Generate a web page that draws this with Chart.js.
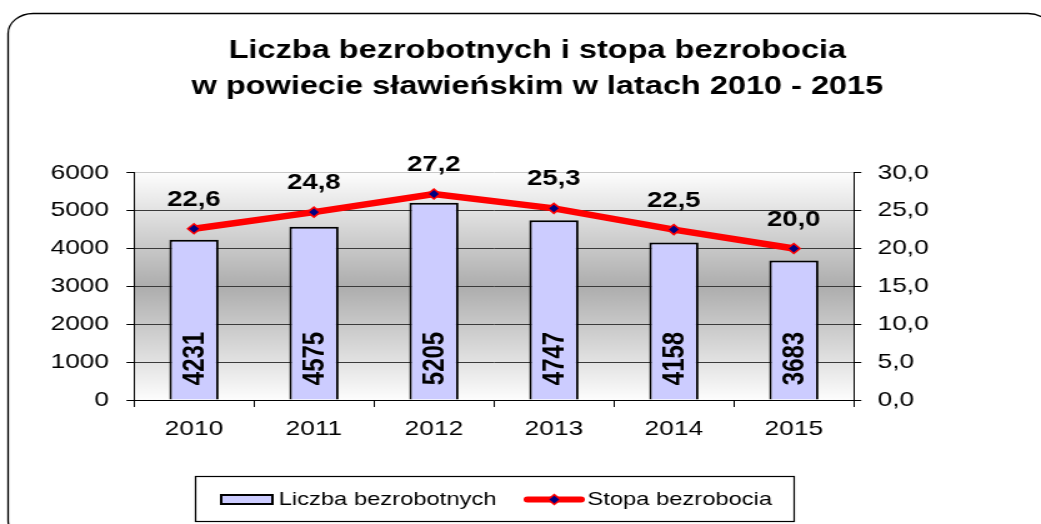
<!DOCTYPE html>
<html>
<head>
<meta charset="utf-8">
<script src="https://cdn.jsdelivr.net/npm/chart.js@4/dist/chart.umd.min.js"></script>
<style>
html,body{margin:0;padding:0;background:#fff;overflow:hidden;}
</style>
</head>
<body>
<canvas id="c" width="833" height="524" style="display:block;width:1041px;height:524px;"></canvas>
<script>
// ---- data ----
const years = ['2010', '2011', '2012', '2013', '2014', '2015'];
const unemployed = [4231, 4575, 5205, 4747, 4158, 3683];
const rate = [22.6, 24.8, 27.2, 25.3, 22.5, 20.0];
const seriesNames = ['Liczba bezrobotnych', 'Stopa bezrobocia'];
const titleLines = ['Liczba bezrobotnych i stopa bezrobocia', 'w powiecie sławieńskim w latach 2010 - 2015'];

const FONT = "'Liberation Sans', Arial, sans-serif";
Chart.defaults.font.family = FONT;
Chart.defaults.color = '#000';

const fmtComma = v => Number(v).toFixed(1).replace('.', ',');

function roundedRect(ctx, x, y, w, h, r) {
  ctx.beginPath();
  ctx.moveTo(x + r, y);
  ctx.lineTo(x + w - r, y);
  ctx.arcTo(x + w, y, x + w, y + r, r);
  ctx.lineTo(x + w, y + h - r);
  ctx.arcTo(x + w, y + h, x + w - r, y + h, r);
  ctx.lineTo(x + r, y + h);
  ctx.arcTo(x, y + h, x, y + h - r, r);
  ctx.lineTo(x, y + r);
  ctx.arcTo(x, y, x + r, y, r);
  ctx.closePath();
}

function diamond(ctx, x, y, r) {
  ctx.beginPath();
  ctx.moveTo(x - r, y);
  ctx.lineTo(x, y - r);
  ctx.lineTo(x + r, y);
  ctx.lineTo(x, y + r);
  ctx.closePath();
}

const decor = {
  id: 'decor',
  beforeDraw(chart) {
    const { ctx, chartArea: a, width, height } = chart;
    ctx.save();
    ctx.fillStyle = '#fff';
    ctx.fillRect(0, 0, width, height);
    roundedRect(ctx, 6.5, 13.5, 836, 527, 20);
    ctx.lineWidth = 1.3;
    ctx.strokeStyle = '#000';
    ctx.stroke();
    const g = ctx.createLinearGradient(0, a.top, 0, a.bottom);
    g.addColorStop(0, '#fdfdfd');
    g.addColorStop(0.5, '#adadad');
    g.addColorStop(1, '#fdfdfd');
    ctx.fillStyle = g;
    ctx.fillRect(a.left, a.top, a.right - a.left, a.bottom - a.top);
    ctx.restore();
  },
  afterDatasetsDraw(chart) {
    const ctx = chart.ctx;
    ctx.save();
    ctx.fillStyle = '#000';
    // bar labels (rotated)
    const mb = chart.getDatasetMeta(0);
    ctx.font = 'bold 24px ' + FONT;
    ctx.textAlign = 'center';
    ctx.textBaseline = 'middle';
    mb.data.forEach((bar, i) => {
      ctx.save();
      ctx.translate(bar.x + 1, bar.base - 41);
      ctx.rotate(-Math.PI / 2);
      ctx.fillText(String(unemployed[i]), 0, 0);
      ctx.restore();
    });
    // line labels
    const ml = chart.getDatasetMeta(1);
    ctx.font = 'bold 22px ' + FONT;
    ml.data.forEach((p, i) => {
      ctx.fillText(fmtComma(rate[i]), p.x, p.y - 29);
    });
    ctx.restore();
  },
  afterDraw(chart) {
    const ctx = chart.ctx;
    ctx.save();
    // legend frame
    ctx.strokeStyle = '#000';
    ctx.lineWidth = 1.2;
    ctx.strokeRect(156.5, 476.5, 479, 45);
    const cy = 499.5;
    // bar swatch
    ctx.fillStyle = '#ccccff';
    ctx.fillRect(177, cy - 4.5, 41, 9);
    ctx.lineWidth = 2;
    ctx.strokeRect(177, cy - 4.5, 41, 9);
    ctx.fillStyle = '#000';
    ctx.font = '19px ' + FONT;
    ctx.textAlign = 'left';
    ctx.textBaseline = 'middle';
    ctx.fillText(chart.data.datasets[0].label, 223, cy);
    // line swatch
    ctx.strokeStyle = '#ff0000';
    ctx.lineWidth = 6;
    ctx.lineCap = 'round';
    ctx.beginPath();
    ctx.moveTo(422, cy);
    ctx.lineTo(465, cy);
    ctx.stroke();
    diamond(ctx, 443.5, cy, 5);
    ctx.fillStyle = '#000080';
    ctx.fill();
    ctx.lineWidth = 1.5;
    ctx.strokeStyle = '#ff0000';
    ctx.stroke();
    ctx.fillStyle = '#000';
    ctx.fillText(chart.data.datasets[1].label, 470, cy);
    ctx.restore();
  }
};

const canvas = document.getElementById('c');
const chart = new Chart(canvas, {
  data: {
    labels: years,
    datasets: [
      {
        type: 'bar',
        label: seriesNames[0],
        data: unemployed,
        yAxisID: 'y',
        backgroundColor: '#ccccff',
        borderColor: '#000',
        borderWidth: 2,
        barPercentage: 0.41,
        categoryPercentage: 1,
        order: 2
      },
      {
        type: 'line',
        label: seriesNames[1],
        data: rate,
        yAxisID: 'y1',
        borderColor: '#ff0000',
        borderWidth: 6.5,
        tension: 0,
        pointStyle: 'rectRot',
        pointRadius: 5,
        pointBackgroundColor: '#000080',
        pointBorderColor: '#ff0000',
        pointBorderWidth: 1.5,
        order: 1
      }
    ]
  },
  options: {
    responsive: false,
    animation: false,
    devicePixelRatio: 1,
    layout: { padding: { left: 27, right: 0, top: 0, bottom: 0 } },
    plugins: {
      legend: { display: false },
      tooltip: { enabled: false },
      title: {
        display: true,
        text: titleLines,
        color: '#000',
        font: { size: 26, weight: 'bold', family: FONT, lineHeight: 1.38 },
        padding: { top: 33, bottom: 68 }
      }
    },
    scales: {
      x: {
        grid: { offset: true, drawOnChartArea: false, drawTicks: true, tickLength: 7, color: '#000', tickColor: '#000', lineWidth: 1 },
        border: { display: true, color: '#000', width: 1 },
        ticks: { font: { size: 21 }, color: '#000', padding: 10 },
        afterFit(s) { s.height = 124; }
      },
      y: {
        position: 'left',
        min: 0, max: 6000,
        ticks: { stepSize: 1000, font: { size: 21 }, color: '#000', padding: 14, callback: v => String(v) },
        grid: {
          color: c => (c.tick && c.tick.value === 6000) ? '#c8c8c8' : '#3a3a3a',
          tickColor: '#000', tickLength: 6, lineWidth: 1
        },
        border: { display: true, color: '#000', width: 1 },
        afterFit(s) { s.width = 80.2; }
      },
      y1: {
        position: 'right',
        min: 0, max: 30,
        ticks: { stepSize: 5, font: { size: 21 }, color: '#000', padding: 13, callback: v => fmtComma(v) },
        grid: { drawOnChartArea: false, tickColor: '#000', tickLength: 6, color: '#000' },
        border: { display: true, color: '#000', width: 1 },
        afterFit(s) { s.width = 149.8; }
      }
    }
  },
  plugins: [decor]
});
canvas.style.width = '1041px';
canvas.style.height = '524px';
</script>
</body>
</html>
